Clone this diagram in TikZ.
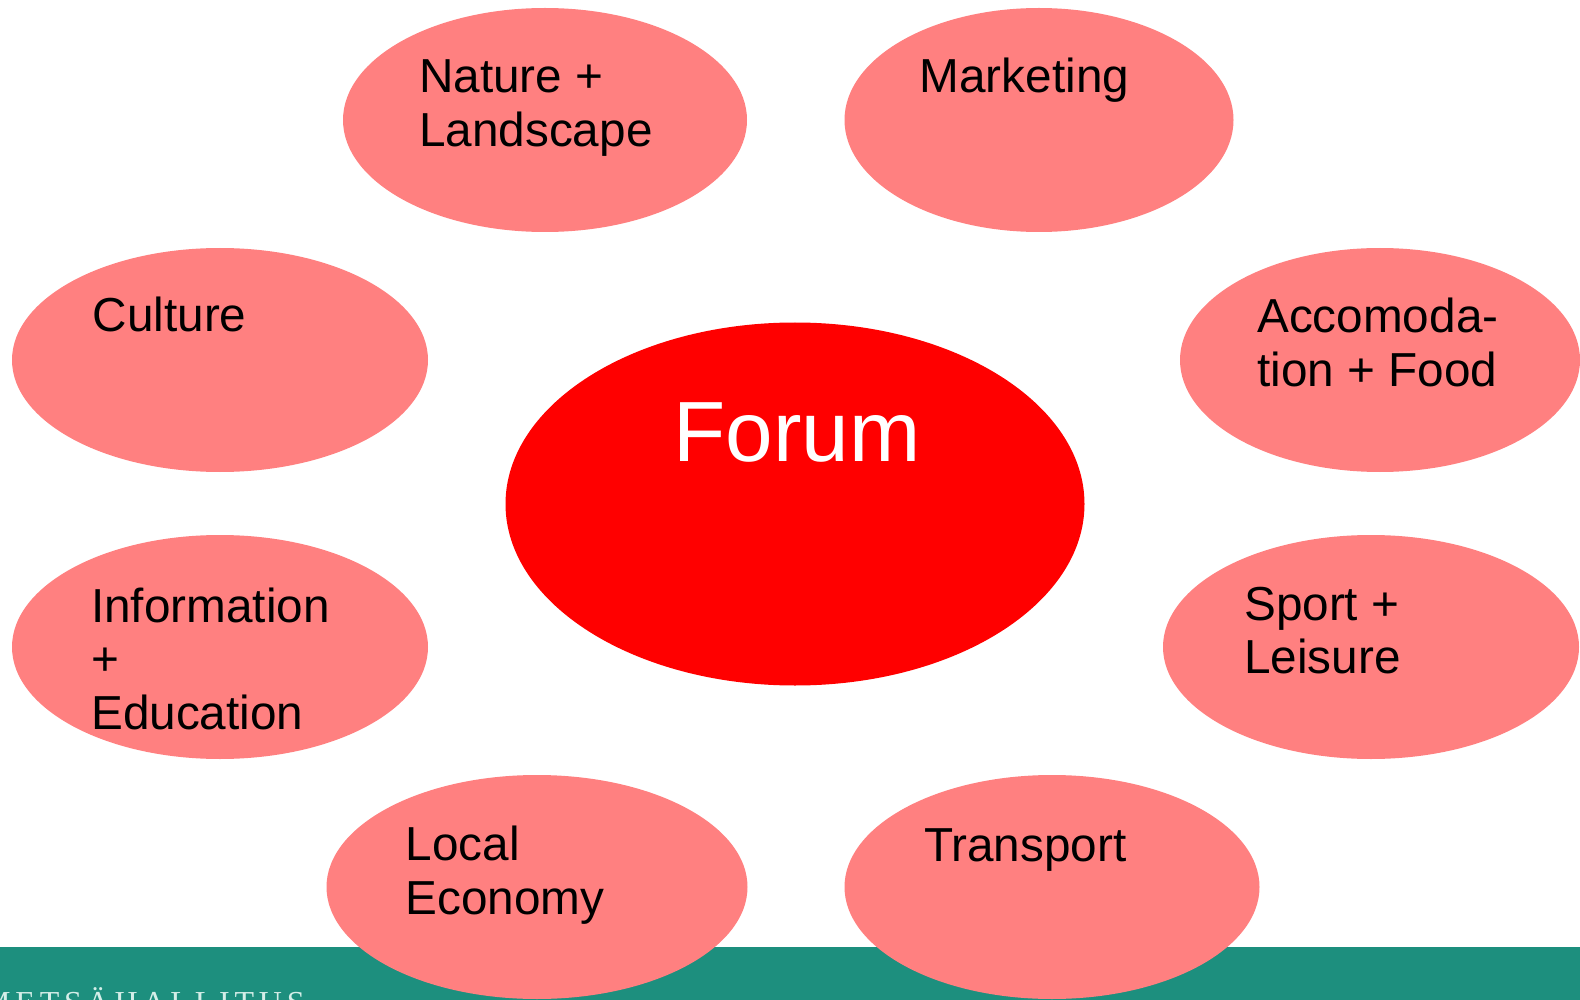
\documentclass[tikz,border=0pt]{standalone}
\usepackage{fontspec}
\setmainfont{Liberation Sans}
\newfontfamily\logofont[LetterSpace=15]{Liberation Serif}
\usetikzlibrary{shapes.geometric}
\definecolor{bubblePink}{HTML}{FF8080}
\definecolor{forumRed}{HTML}{FF0000}
\definecolor{barGreen}{HTML}{1D8F7E}
\definecolor{logoMint}{HTML}{D4EEE8}
\tikzset{
  bubble/.style={ellipse, fill=bubblePink, draw=none, inner sep=0pt},
  lbl/.style={anchor=base west, inner sep=0pt, align=left, text=black,
    font=\fontsize{47.7}{53.5}\selectfont},
  forumlbl/.style={anchor=base, inner sep=0pt, text=white,
    font=\fontsize{85.5}{92}\selectfont},
  logo/.style={anchor=base west, inner sep=0pt, text=logoMint,
    font=\logofont\fontsize{32}{36}\selectfont}
}
\begin{document}
\begin{tikzpicture}[x=1pt,y=-1pt]
\useasboundingbox (0,0) rectangle (1580,1000);
\clip (0,0) rectangle (1580,1000);
\fill[white] (0,0) rectangle (1580,1000);
\fill[barGreen] (0,947) rectangle (1580,1000);
\node[logo] (logo) at (-18,1013) {METSÄHALLITUS};

\node[bubble, minimum width=404, minimum height=224] (nature) at (545,120) {};
\node[bubble, minimum width=389, minimum height=224] (marketing) at (1039,120) {};
\node[bubble, minimum width=416, minimum height=224] (culture) at (220,360) {};
\node[bubble, minimum width=400, minimum height=224] (accom) at (1380,360) {};
\node[ellipse, fill=forumRed, inner sep=0pt, minimum width=579, minimum height=363] (forum) at (795,504) {};
\node[bubble, minimum width=416, minimum height=224] (info) at (220,647) {};
\node[bubble, minimum width=416, minimum height=224] (sport) at (1371,647) {};
\node[bubble, minimum width=421, minimum height=224] (local) at (537,887) {};
\node[bubble, minimum width=415, minimum height=224] (transport) at (1052,887) {};

% base anchor of multi-line labels is the last line's baseline
\node[lbl] (natureT) at (419,146.5) {Nature +\\Landscape};
\node[lbl] (marketingT) at (919.5,92.3) {Marketing};
\node[lbl] (cultureT) at (92.5,331.7) {Culture};
\node[lbl] (accomT) at (1257,386.2) {Accomoda-\\tion + Food};
\node[forumlbl] (forumT) at (797,461) {Forum};
\node[lbl] (infoT) at (91,729) {Information\\+\\Education};
\node[lbl] (sportT) at (1244,673.5) {Sport +\\Leisure};
\node[lbl] (localT) at (405.5,914.2) {Local\\Economy};
\node[lbl] (transportT) at (924,861.7) {Transport};
\end{tikzpicture}
\end{document}
